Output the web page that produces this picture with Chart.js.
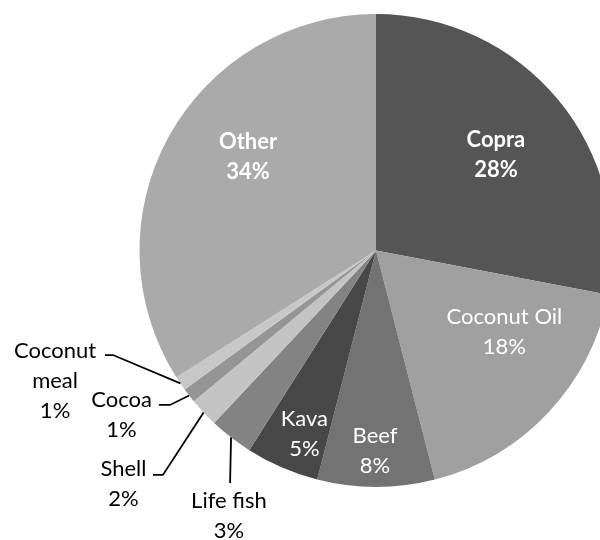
<!DOCTYPE html>
<html>
<head>
<meta charset="utf-8">
<script src="https://cdn.jsdelivr.net/npm/chart.js@4.4.1/dist/chart.umd.min.js"></script>
<style>
  html, body { margin: 0; padding: 0; background: #ffffff; overflow: hidden; }
  #wrap { width: 600px; height: 540px; overflow: hidden; position: relative; }
  canvas { display: block; }
</style>
</head>
<body>
<div id="wrap"><canvas id="c" width="640" height="540"></canvas></div>
<script>
// ---- data ----
const categories = ['Copra', 'Coconut Oil', 'Beef', 'Kava', 'Life fish', 'Shell', 'Cocoa', 'Coconut meal', 'Other'];
const shares = [28, 18, 8, 5, 3, 2, 1, 1, 34];
const sliceColors = ['#555555', '#a0a0a0', '#737373', '#474747', '#838383', '#c4c4c4', '#959595', '#c8c8c8', '#aaaaaa'];

// ---- label layout (relative to pie centre, in units of radius) ----
const labelLayout = [
  { inside: true, bold: true,  lines: ['Copra'],              cx: 0.507,  cy: -0.404 },
  { inside: true, bold: false, lines: ['Coconut Oil'],        cx: 0.543,  cy: 0.345 },
  { inside: true, bold: false, lines: ['Beef'],               cx: -0.004, cy: 0.846 },
  { inside: true, bold: false, lines: ['Kava'],               cx: -0.303, cy: 0.776 },
  { inside: false, lines: ['Life fish'],   cx: -0.622, cy: 1.123, elbow: [-0.617, 0.983], end: [-0.617, 0.983] },
  { inside: false, lines: ['Shell'],       cx: -1.068, cy: 0.985, elbow: [-0.901, 0.949], end: [-0.943, 0.949] },
  { inside: false, lines: ['Cocoa'],       cx: -1.076, cy: 0.697, elbow: [-0.871, 0.653], end: [-0.918, 0.653] },
  { inside: false, lines: ['Coconut', 'meal'], cx: -1.357, cy: 0.552, elbow: [-1.112, 0.442], end: [-1.146, 0.442] },
  { inside: true, bold: true,  lines: ['Other'],              cx: -0.541, cy: -0.397 }
];

const FONT = 'Lato, "Open Sans", sans-serif';
const FONT_SIZE = 22;
const LINE_H = 30;

const labelPlugin = {
  id: 'pieLabels',
  afterDatasetsDraw(chart) {
    const ctx = chart.ctx;
    const meta = chart.getDatasetMeta(0);
    ctx.save();
    ctx.textAlign = 'center';
    ctx.textBaseline = 'middle';
    meta.data.forEach((arc, i) => {
      const p = arc.getProps(['x', 'y', 'startAngle', 'endAngle', 'outerRadius'], true);
      const R = p.outerRadius;
      const L = labelLayout[i];
      const lines = L.lines.concat([shares[i] + '%']);
      const bx = p.x + L.cx * R;
      const by = p.y + L.cy * R;
      if (L.inside) {
        ctx.fillStyle = '#ffffff';
        ctx.font = (L.bold ? 'bold ' : '') + FONT_SIZE + 'px ' + FONT;
      } else {
        ctx.fillStyle = '#000000';
        ctx.font = FONT_SIZE + 'px ' + FONT;
        // leader line from slice edge at mid angle
        const mid = (p.startAngle + p.endAngle) / 2;
        const sx = p.x + Math.cos(mid) * R;
        const sy = p.y + Math.sin(mid) * R;
        ctx.beginPath();
        ctx.strokeStyle = '#000000';
        ctx.lineWidth = 1.8;
        ctx.moveTo(sx, sy);
        ctx.lineTo(p.x + L.elbow[0] * R, p.y + L.elbow[1] * R);
        ctx.lineTo(p.x + L.end[0] * R, p.y + L.end[1] * R);
        ctx.stroke();
      }
      const top = by - (lines.length - 1) * LINE_H / 2;
      lines.forEach((t, k) => ctx.fillText(t, bx, top + k * LINE_H));
    });
    ctx.restore();
  }
};

new Chart(document.getElementById('c'), {
  type: 'pie',
  data: {
    labels: categories,
    datasets: [{
      data: shares,
      backgroundColor: sliceColors,
      borderWidth: 0
    }]
  },
  options: {
    responsive: false,
    animation: false,
    devicePixelRatio: 1,
    layout: { padding: { left: 139.5, right: 27.5, top: 14, bottom: 53 } },
    plugins: {
      legend: { display: false },
      tooltip: { enabled: false }
    }
  },
  plugins: [labelPlugin]
});
</script>
</body>
</html>
